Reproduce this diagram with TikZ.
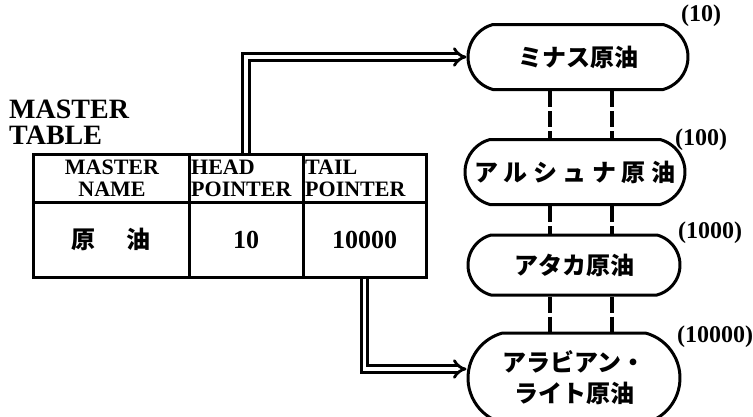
\documentclass[tikz,border=0pt]{standalone}
\usepackage{fontspec}
\setmainfont{Liberation Serif}
\newfontfamily\cjk{Noto Sans CJK JP}
\usetikzlibrary{shapes.misc,arrows.meta,calc}
\newcommand{\gp}{\kern5.5pt}
\begin{document}
\begin{tikzpicture}[x=1pt,y=-1pt,
  cell/.style={draw,line width=3pt,rectangle,inner sep=0pt},
  pill/.style={draw,line width=3pt,rounded rectangle,rounded rectangle arc length=150,inner sep=0pt,font=\cjk\bfseries\fontsize{24}{31}\selectfont,align=center},
  ptr/.style={double,double distance=3.5pt,line width=2.8pt,-{Implies[length=8pt,width=18pt]}},
  link/.style={line width=3.5pt,dash pattern=on 16pt off 4pt},
  num/.style={font=\bfseries\fontsize{24}{24}\selectfont,inner sep=0pt},
  hdr/.style={font=\bfseries\fontsize{22}{22}\selectfont,inner sep=0pt},
  ttl/.style={font=\bfseries\fontsize{28}{27}\selectfont,inner sep=0pt,anchor=base west}]
\useasboundingbox (0,0) rectangle (753,416);
% title
\node[ttl] (mt1) at (9,118) {MASTER};
\node[ttl] (mt2) at (9,144) {TABLE};
% table
\node[cell,minimum width=156pt,minimum height=48pt] (h1) at (111,178) {};
\node[cell,minimum width=114pt,minimum height=48pt] (h2) at (246,178) {};
\node[cell,minimum width=123pt,minimum height=48pt] (h3) at (364.5,178) {};
\node[cell,minimum width=156pt,minimum height=75pt] (d1) at (111,239.5) {};
\node[cell,minimum width=114pt,minimum height=75pt] (d2) at (246,239.5) {};
\node[cell,minimum width=123pt,minimum height=75pt] (d3) at (364.5,239.5) {};
\node[hdr,align=center] (t1) at (112,178) {MASTER\\NAME};
\node[hdr,align=left,anchor=west] (t2) at (191,178) {HEAD\\POINTER};
\node[hdr,align=left,anchor=west] (t3) at (305,178) {TAIL\\POINTER};
\node[font=\cjk\bfseries\fontsize{24}{24}\selectfont,inner sep=0pt] (v1) at (d1) {原\hspace{32pt}油};
\node[font=\bfseries\fontsize{26}{26}\selectfont,inner sep=0pt] (v2) at (d2) {10};
\node[font=\bfseries\fontsize{26}{26}\selectfont,inner sep=0pt] (v3) at (d3) {10000};
% list nodes
\node[pill,minimum width=220pt,minimum height=65pt] (n1) at (578,57) {ミナス原油};
\node[pill,minimum width=220pt,minimum height=65pt] (n2) at (575,172) {ア\gp ル\gp シ\gp ュ\gp ナ\gp 原\gp 油};
\node[pill,minimum width=212pt,minimum height=60pt] (n3) at (574,265) {アタカ原油};
\node[pill,minimum width=212pt,minimum height=90pt] (n4) at (574,378) {アラビアン・\\ライト原油};
% labels
\node[num] (l1) at (701,16) {(10)};
\node[num] (l2) at (701,140) {(100)};
\node[num] (l3) at (710,233) {(1000)};
\node[num] (l4) at (715,337) {(10000)};
% links
\coordinate (cl) at (550,0);
\coordinate (cr) at (612,0);
\draw[link] (n1.south -| cl) -- (n2.north -| cl);
\draw[link] (n1.south -| cr) -- (n2.north -| cr);
\draw[link] (n2.south -| cl) -- (n3.north -| cl);
\draw[link] (n2.south -| cr) -- (n3.north -| cr);
\draw[link] (n3.south -| cl) -- (n4.north -| cl);
\draw[link] (n3.south -| cr) -- (n4.north -| cr);
% pointers
\draw[ptr] (h2.north) |- (n1.west);
\draw[ptr] (d3.south) |- ([yshift=9pt]n4.west);
\end{tikzpicture}
\end{document}
